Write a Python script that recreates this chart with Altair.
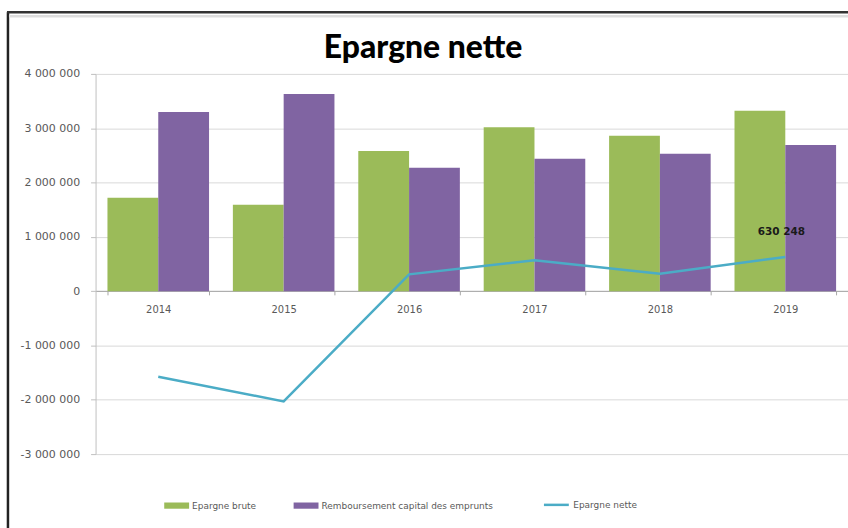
import altair as alt
import pandas as pd

years = ["2014", "2015", "2016", "2017", "2018", "2019"]
epargne_brute = [1720000, 1590000, 2580000, 3020000, 2860000, 3320000]
remboursement = [3300000, 3630000, 2270000, 2440000, 2530000, 2690000]
epargne_nette = [-1575000, -2030000, 310000, 570000, 320000, 630248]
net_labels = [None, None, None, None, None, 630248]

series = ["Epargne brute", "Remboursement capital des emprunts"]
line_name = "Epargne nette"
title_text = "Epargne nette"
y_ticks = [-3000000, -2000000, -1000000, 0, 1000000, 2000000, 3000000, 4000000]

bars_df = pd.DataFrame(
    [{"annee": y, "serie": series[0], "valeur": v} for y, v in zip(years, epargne_brute)]
    + [{"annee": y, "serie": series[1], "valeur": v} for y, v in zip(years, remboursement)]
)
line_df = pd.DataFrame({"annee": years, "valeur": epargne_nette, "serie": line_name, "label": net_labels})
title_df = pd.DataFrame({"t": [title_text]})

FONT = "DejaVu Sans"
GREY = "#595959"
fmt_expr = "(datum.value < 0 ? '-' : '') + replace(format(abs(datum.value), ','), regexp(',', 'g'), ' ')"

x_scale = alt.Scale(domain=years, paddingInner=0.19, paddingOuter=0.095)
y_scale = alt.Scale(domain=[-3000000, 4000000], nice=False, zero=False)

bars = alt.Chart(bars_df).mark_bar().encode(
    x=alt.X("annee:N", scale=x_scale, sort=years,
            axis=alt.Axis(title=None, labelAngle=0, offset=-164, domainColor="#a6a6a6",
                          tickColor="#a6a6a6", tickBand="extent", tickSize=4, labelPadding=10,
                          labelFont=FONT, labelFontSize=10, labelColor=GREY, grid=False)),
    xOffset=alt.XOffset("serie:N", sort=series),
    y=alt.Y("valeur:Q", scale=y_scale,
            axis=alt.Axis(title=None, values=y_ticks, labelExpr=fmt_expr, labelFont=FONT,
                          labelFontSize=11, labelColor=GREY, gridColor="#d9d9d9",
                          domainColor="#bfbfbf", tickColor="#bfbfbf", tickSize=5, labelPadding=11)),
    color=alt.Color("serie:N", sort=series,
                    scale=alt.Scale(domain=series, range=["#9BBB59", "#8064A2"]),
                    legend=alt.Legend(title=None, orient="none", direction="horizontal",
                                      legendX=69, legendY=421, columnPadding=37,
                                      symbolType="M-1,-0.25L1,-0.25L1,0.25L-1,0.25Z",
                                      symbolSize=625, symbolStrokeWidth=0, labelFont=FONT,
                                      labelFontSize=9, labelColor=GREY, labelOffset=3,
                                      labelLimit=400)),
)

line = alt.Chart(line_df).mark_line(strokeWidth=2.5).encode(
    x=alt.X("annee:N", scale=x_scale, sort=years),
    y=alt.Y("valeur:Q", scale=y_scale),
    stroke=alt.Stroke("serie:N", scale=alt.Scale(domain=[line_name], range=["#4BACC6"]),
                      legend=alt.Legend(title=None, orient="none", legendX=449, legendY=419,
                                        symbolType="stroke", symbolSize=625, symbolStrokeWidth=2.5,
                                        labelFont=FONT, labelFontSize=9, labelColor=GREY,
                                        labelOffset=3, labelLimit=300)),
)

labels = alt.Chart(line_df).transform_filter("datum.label != null").transform_calculate(
    txt="replace(format(datum.label, ','), regexp(',', 'g'), ' ')"
).mark_text(font=FONT, fontSize=10.5, fontWeight="bold", color="#1a1a1a", dy=-25, dx=-4).encode(
    x=alt.X("annee:N", scale=x_scale, sort=years),
    y=alt.Y("valeur:Q", scale=y_scale),
    text="txt:N",
)

title = alt.Chart(title_df).mark_text(
    font="Lato", fontSize=32, fontWeight=900, color="#000000", align="center",
    baseline="alphabetic", clip=False
).encode(x=alt.value(329), y=alt.value(-16), text="t:N")

frame_left = alt.Chart(title_df).mark_rule(color="#222222", strokeWidth=2.5, clip=False).encode(
    x=alt.value(-88), y=alt.value(-62), y2=alt.value(460))
frame_top = alt.Chart(title_df).mark_rule(color="#333333", strokeWidth=2.5, clip=False).encode(
    x=alt.value(-89), x2=alt.value(760), y=alt.value(-62))
frame_grey = alt.Chart(title_df).mark_rule(color="#dddddd", strokeWidth=2.5, clip=False).encode(
    x=alt.value(-87), x2=alt.value(760), y=alt.value(-58))

chart = alt.layer(bars, line, labels, title, frame_left, frame_top, frame_grey).resolve_scale(
    color="independent", stroke="independent"
).properties(
    width=756, height=382,
    autosize=alt.AutoSizeParams(type="none"),
    padding={"left": 96, "top": 73, "right": 0, "bottom": 73},
).configure_view(stroke=None)

chart.save("out.html", embed_options={"renderer": "svg", "actions": False})
